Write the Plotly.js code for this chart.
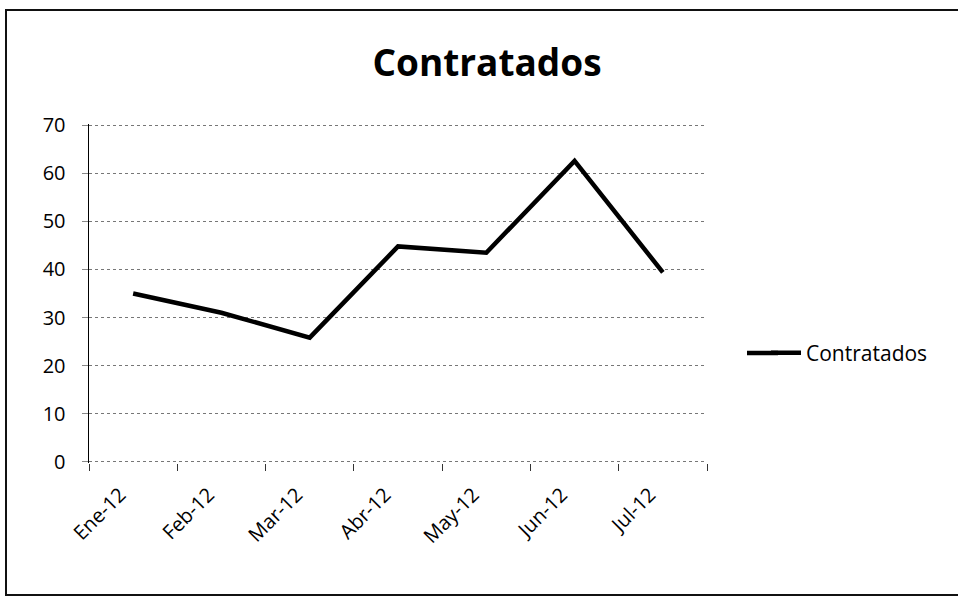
<!DOCTYPE html>
<html>
<head>
<meta charset="utf-8">
<script src="https://cdn.plot.ly/plotly-3.0.1.min.js"></script>
<style>
html,body{margin:0;padding:0;background:#fff;}
#chart{width:958px;height:597px;}
</style>
</head>
<body>
<div id="chart"></div>
<script>
const categories = ["Ene-12","Feb-12","Mar-12","Abr-12","May-12","Jun-12","Jul-12"];
const contratados = [35, 31, 25.8, 44.8, 43.5, 62.6, 39.4];
const seriesName = "Contratados";
const yTicks = [0,10,20,30,40,50,60,70];

const L = 89, R = 707, T = 124, B = 463, W = 958, H = 597;
const px = x => (x - L) / (R - L);
const py = y => (B - y) / (B - T);

const font = "Open Sans, Liberation Sans, sans-serif";

const trace = {
  x: categories,
  y: contratados,
  type: "scatter",
  mode: "lines",
  name: seriesName,
  line: {color: "#000", width: 4.5}
};

const layout = {
  width: W, height: H,
  margin: {l: L, r: W - R, t: T, b: H - B, pad: 0},
  paper_bgcolor: "#fff",
  plot_bgcolor: "#fff",
  showlegend: true,
  title: {
    text: "<b>Contratados</b>",
    font: {family: font, size: 37, color: "#000"},
    x: px(487), xref: "paper", xanchor: "center",
    y: 1 - 63 / H, yref: "container", yanchor: "middle"
  },
  xaxis: {
    type: "category",
    range: [-0.5, 6.5],
    tickson: "boundaries",
    ticks: "outside", ticklen: 7, tickcolor: "#333", tickwidth: 1,
    showline: false,
    showgrid: false, zeroline: false,
    tickangle: -45,
    ticklabelstandoff: 15,
    ticklabelshift: -13,
    tickfont: {family: font, size: 20, color: "#000"}
  },
  yaxis: {
    range: [-0.3, 70.3],
    tickvals: yTicks,
    ticktext: yTicks.map(String),
    ticks: "outside", ticklen: 6, tickcolor: "#888", tickwidth: 1,
    ticklabelstandoff: 12,
    showline: true, linecolor: "#000", linewidth: 1.5,
    showgrid: true, gridcolor: "#777", gridwidth: 1, griddash: "dot",
    zeroline: false,
    tickfont: {family: font, size: 20, color: "#000"}
  },
  legend: {
    x: px(766), xref: "paper", xanchor: "left",
    y: py(353), yref: "paper", yanchor: "middle",
    font: {family: font, size: 21, color: "#000"},
    bgcolor: "rgba(0,0,0,0)",
    itemwidth: 30
  },
  shapes: [{
    type: "rect", xref: "paper", yref: "paper",
    x0: px(6), x1: px(965), y0: py(595), y1: py(10),
    line: {color: "#111", width: 2}, fillcolor: "rgba(0,0,0,0)"
  }, {
    type: "line", xref: "paper", yref: "paper",
    x0: px(747), x1: px(778), y0: py(353), y1: py(353),
    line: {color: "#000", width: 4.5}
  }]
};

Plotly.newPlot("chart", [trace], layout, {displayModeBar: false, staticPlot: true});
</script>
</body>
</html>
